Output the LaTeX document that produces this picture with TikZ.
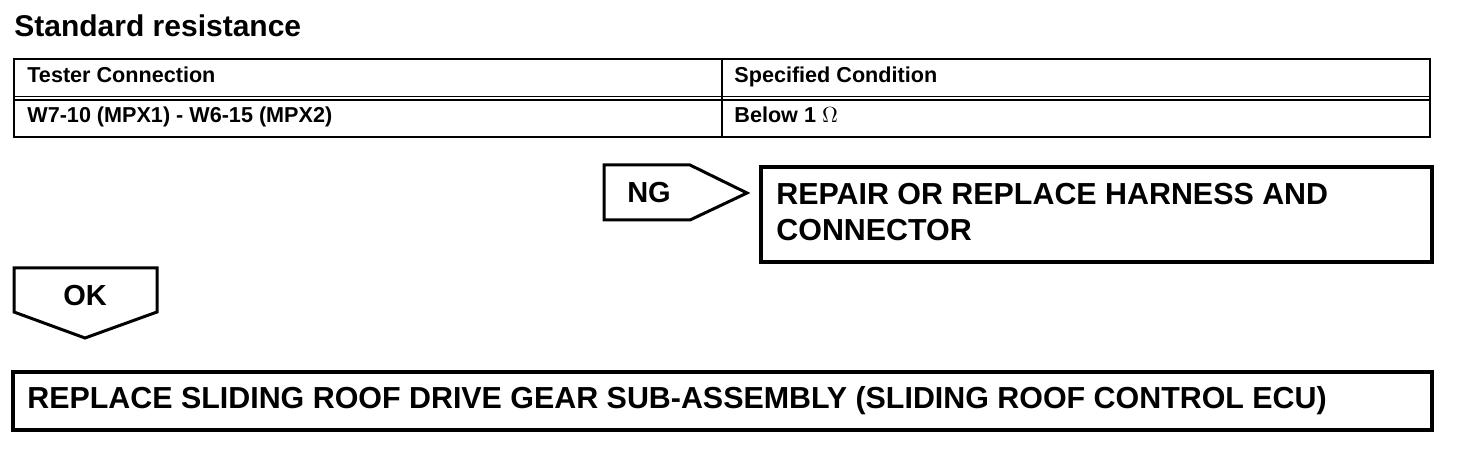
\documentclass[tikz,border=0pt]{standalone}
\usepackage{fontspec}
\setmainfont{Liberation Sans}
\begin{document}
\begin{tikzpicture}
      [x=0.5pt,y=-0.5pt,
       cell/.style={anchor=base west,inner sep=0pt,font=\bfseries\fontsize{10.8}{13}\selectfont},
       big/.style={anchor=base west,inner sep=0pt,font=\bfseries\fontsize{15.2}{18}\selectfont},
       tag/.style={inner sep=0pt,font=\bfseries\fontsize{14.5}{17}\selectfont},
       grid/.style={draw,line width=1pt},
       frame/.style={draw,line width=2pt},
       pointer/.style={draw,line width=1.5pt,line join=miter}]
      \useasboundingbox (0,0) rectangle (1472,454);
      \node[big,font=\bfseries\fontsize{15}{18}\selectfont] (title) at (14,37) {Standard resistance};
      % table
      \draw[grid] (14,59) rectangle (1430,137);
      \draw[grid,line width=0.8pt] (14,96.5) -- (1430,96.5);
      \draw[grid,line width=0.8pt] (14,100) -- (1430,100);
      \draw[grid] (722,59) -- (722,137);
      \node[cell] (hconn) at (27,83) {Tester Connection};
      \node[cell] (hcond) at (734,83) {Specified Condition};
      \node[cell] (rconn) at (27,123) {W7-10 (MPX1) - W6-15 (MPX2)};
      \node[cell] (rcond) at (734,123) {Below 1 $\Omega$};
      % NG branch
      \draw[pointer] (604,165) -- (690,165) -- (747,193) -- (690,220) -- (604,220) -- cycle;
      \node[tag] (ng) at (649,193) {NG};
      \draw[frame] (761,167) rectangle (1432,262);
      \node[big] (repair) at (776,205) {REPAIR OR REPLACE HARNESS AND};
      \node[big] (repairb) at ([yshift=-18pt]repair.base west) {CONNECTOR};
      % OK branch
      \draw[pointer] (14,268) -- (157,268) -- (157,312) -- (85,338) -- (14,312) -- cycle;
      \node[tag] (ok) at (85,296) {OK};
      \draw[frame] (13,372) rectangle (1432,430);
      \node[big] (replace) at (27,408) {REPLACE SLIDING ROOF DRIVE GEAR SUB-ASSEMBLY (SLIDING ROOF CONTROL ECU)};
    \end{tikzpicture}
\end{document}
